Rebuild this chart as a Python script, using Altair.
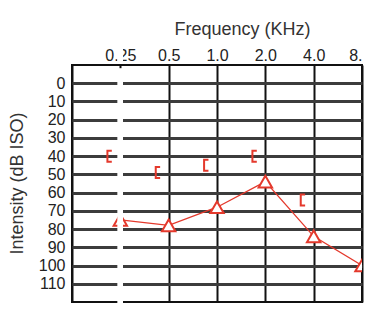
import altair as alt
import pandas as pd

# ---- data ----
freqs = [0.25, 0.5, 1, 2, 4, 8]
air_db = [75, 78, 68, 54, 84, 100]          # triangles (connected)
bone_freqs = [0.25, 0.5, 1, 2, 4]
bone_db = [40, 49, 45, 40, 64]              # "[" markers
freq_ticks = [0.25, 0.5, 1, 2, 4, 8]
freq_labels = ["0.25", "0.5", "1.0", "2.0", "4.0", "8.\u00a0\u00a0"]
db_ticks = [0, 10, 20, 30, 40, 50, 60, 70, 80, 90, 100, 110]

RED = "#e4392c"
FONT = "Liberation Sans"

air = pd.DataFrame({"freq": freqs, "db": air_db})
bone = pd.DataFrame({"freq": bone_freqs, "db": bone_db})

x_label_expr = " : ".join(
    f"datum.value == {f} ? '{l}'" for f, l in zip(freq_ticks, freq_labels)
) + " : ''"
y_label_expr = (
    "datum.value >= " + str(db_ticks[0]) + " && datum.value <= "
    + str(db_ticks[-1]) + " ? datum.label : ''"
)

xscale = alt.Scale(type="log", base=2, domain=[0.125, 8], nice=False)
yscale = alt.Scale(domain=[-10, 120], reverse=True, nice=False, zero=False)

xaxis = alt.Axis(
    orient="top", values=[0.125] + freq_ticks, labelExpr=x_label_expr,
    ticks=False, domain=False, labelPadding=2, labelOverlap=False,
    labelFont=FONT, labelFontSize=16, labelColor="#222",
    grid=True, gridColor="#111", gridWidth=2,
    title="Frequency (KHz)", titleFont=FONT, titleFontSize=18,
    titleFontWeight="normal", titleColor="#333",
    titleX=170, titleY=-36, titleBaseline="middle", titleAlign="center",
)
yaxis = alt.Axis(
    values=db_ticks, tickCount=13, labelExpr=y_label_expr,
    ticks=False, domain=False, labelPadding=7, labelOverlap=False,
    labelFont=FONT, labelFontSize=16, labelColor="#222",
    grid=True, gridColor="#3c3c3c", gridWidth=3,
    title="Intensity (dB ISO)", titleFont=FONT, titleFontSize=18,
    titleFontWeight="normal", titleColor="#333",
    titleX=-55, titleY=118, titleBaseline="middle", titleAlign="center",
    titleAngle=270,
)

X = alt.X("freq:Q", scale=xscale, axis=xaxis)
Y = alt.Y("db:Q", scale=yscale, axis=yaxis)

line = alt.Chart(air).mark_line(color=RED, strokeWidth=1.3, clip=True).encode(
    x=X, y=Y
)

tri = alt.Chart(air).mark_point(
    shape="triangle-up", filled=True, fill="white", stroke=RED,
    strokeWidth=2, size=180, opacity=1, clip=True,
).encode(x=X, y=Y)

bracket = alt.Chart(bone).mark_point(
    shape="M 0.45 -1 L -0.35 -1 L -0.35 1 L 0.45 1",
    filled=False, stroke=RED, strokeWidth=2, size=120, opacity=1,
).encode(x=X, y=Y, xOffset=alt.value(-11))

gap = alt.Chart(air).mark_rule(color="white", strokeWidth=5).encode(
    x=alt.datum(0.25), y=alt.datum(-8), y2=alt.datum(122)
)
gap_label = alt.Chart(air).mark_rule(color="white", strokeWidth=5).encode(
    x=alt.datum(0.25), y=alt.value(-20), y2=alt.value(-3)
)

chart = alt.layer(line, tri, bracket, gap, gap_label).properties(
    width=290, height=237,
    padding={"left": 72, "top": 65, "right": 19, "bottom": 19},
    autosize="none", background="white",
).configure_view(stroke="#111", strokeWidth=2)

chart.save("out.html", embed_options={"renderer": "svg", "actions": False})
